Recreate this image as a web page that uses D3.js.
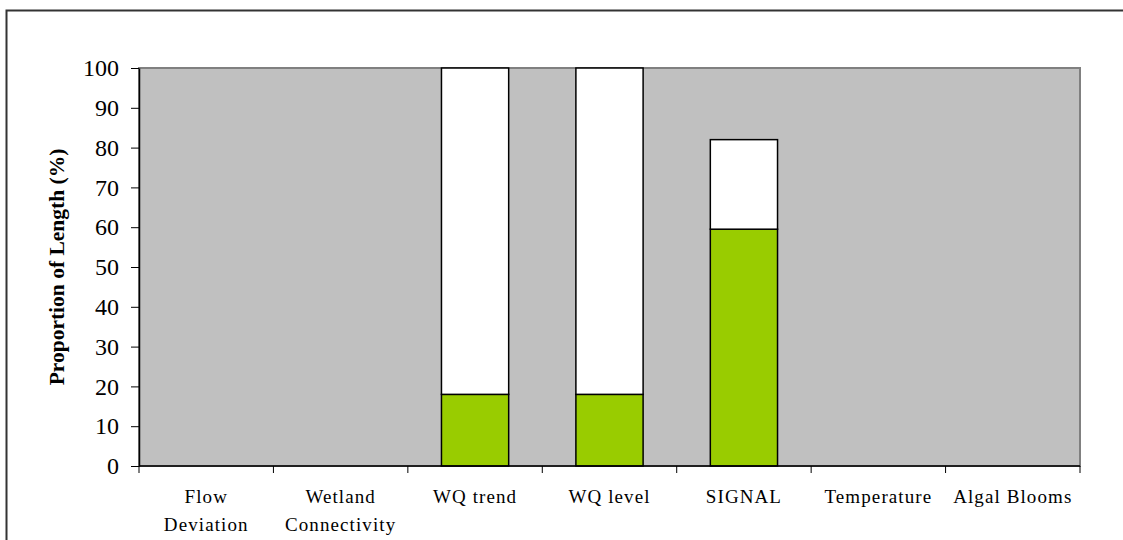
<!DOCTYPE html>
<html>
<head>
<meta charset="utf-8">
<script src="https://cdn.jsdelivr.net/npm/d3@7"></script>
<style>
  body { margin: 0; background: #fff; }
  svg { display: block; }
  svg text { font-family: "Liberation Serif", "Times New Roman", serif; }
</style>
</head>
<body>
<div id="chart"></div>
<script>
// chart data
const categories = [['Flow', 'Deviation'], ['Wetland', 'Connectivity'], ['WQ trend'], ['WQ level'], ['SIGNAL'], ['Temperature'], ['Algal Blooms']];
const greenValues = [0, 0, 18, 18, 59.5, 0, 0];
const whiteValues = [0, 0, 82, 82, 22.5, 0, 0];
const yTicks = [0, 10, 20, 30, 40, 50, 60, 70, 80, 90, 100];

const width = 1123, height = 540;
const margin = {top: 68, right: 43, bottom: 74, left: 139};

const svg = d3.select('#chart').append('svg')
    .attr('width', width)
    .attr('height', height);

// outer frame (right and bottom edges run off the picture)
svg.append('path')
    .attr('d', `M6.5,${height + 5} L6.5,10.5 L${width + 5},10.5`)
    .attr('fill', 'none')
    .attr('stroke', '#333')
    .attr('stroke-width', 2);

const innerW = width - margin.left - margin.right;
const innerH = height - margin.top - margin.bottom;

const chart = svg.append('g')
    .attr('transform', `translate(${margin.left},${margin.top})`);

const x = d3.scaleBand()
    .domain(d3.range(categories.length))
    .range([0, innerW])
    .paddingInner(0.5)
    .paddingOuter(0.25);

const xCat = d3.scaleBand()
    .domain(d3.range(categories.length))
    .range([0, innerW]);

const y = d3.scaleLinear()
    .domain([0, 100])
    .range([innerH, 0]);

// plot area
chart.append('rect')
    .attr('width', innerW)
    .attr('height', innerH)
    .attr('fill', '#c0c0c0')
    .attr('stroke', '#808080')
    .attr('stroke-width', 2);

// stacked bars
const stacked = categories.map((c, i) => ({i, g: greenValues[i], w: whiteValues[i]}));

chart.selectAll('.bar-green')
    .data(stacked.filter(d => d.g > 0))
    .join('rect')
    .attr('class', 'bar-green')
    .attr('x', d => x(d.i))
    .attr('width', x.bandwidth())
    .attr('y', d => y(d.g))
    .attr('height', d => y(0) - y(d.g))
    .attr('fill', '#99cc00')
    .attr('stroke', '#000')
    .attr('stroke-width', 1.5);

chart.selectAll('.bar-white')
    .data(stacked.filter(d => d.w > 0))
    .join('rect')
    .attr('class', 'bar-white')
    .attr('x', d => x(d.i))
    .attr('width', x.bandwidth())
    .attr('y', d => y(d.g + d.w))
    .attr('height', d => y(d.g) - y(d.g + d.w))
    .attr('fill', '#fff')
    .attr('stroke', '#000')
    .attr('stroke-width', 1.5);

// y axis
const yAxis = chart.append('g')
    .call(d3.axisLeft(y).tickValues(yTicks).tickSize(8).tickSizeOuter(0));
yAxis.select('.domain').attr('stroke', '#000').attr('stroke-width', 1.5);
yAxis.selectAll('.tick line').attr('stroke', '#000');
yAxis.selectAll('.tick text')
    .attr('x', -20)
    .attr('font-size', 24)
    .attr('font-family', '"Liberation Serif", serif')
    .attr('fill', '#000');

// x axis (ticks at category boundaries)
const xAxis = chart.append('g')
    .attr('transform', `translate(0,${innerH})`);
xAxis.append('line')
    .attr('x1', 0).attr('x2', innerW)
    .attr('stroke', '#000').attr('stroke-width', 1.5);
xAxis.selectAll('.xtick')
    .data(d3.range(categories.length + 1))
    .join('line')
    .attr('class', 'xtick')
    .attr('x1', d => d < categories.length ? xCat(d) : innerW)
    .attr('x2', d => d < categories.length ? xCat(d) : innerW)
    .attr('y1', 0).attr('y2', 7)
    .attr('stroke', '#000');

const labels = xAxis.selectAll('.xlabel')
    .data(categories)
    .join('text')
    .attr('class', 'xlabel')
    .attr('text-anchor', 'middle')
    .attr('font-size', 19)
    .attr('font-family', '"Liberation Serif", serif')
    .attr('letter-spacing', 1.1)
    .attr('fill', '#000')
    .attr('transform', (d, i) => `translate(${xCat(i) + xCat.bandwidth() / 2},0)`);
labels.selectAll('tspan')
    .data(d => d)
    .join('tspan')
    .attr('x', 0)
    .attr('y', (d, j) => 37 + j * 28)
    .text(d => d);

// y title
svg.append('text')
    .attr('transform', `translate(64,${margin.top + innerH / 2}) rotate(-90)`)
    .attr('text-anchor', 'middle')
    .attr('font-size', 21.5)
    .attr('font-weight', 'bold')
    .attr('font-family', '"Liberation Serif", serif')
    .attr('fill', '#000')
    .text('Proportion of Length (%)');
</script>
</body>
</html>
